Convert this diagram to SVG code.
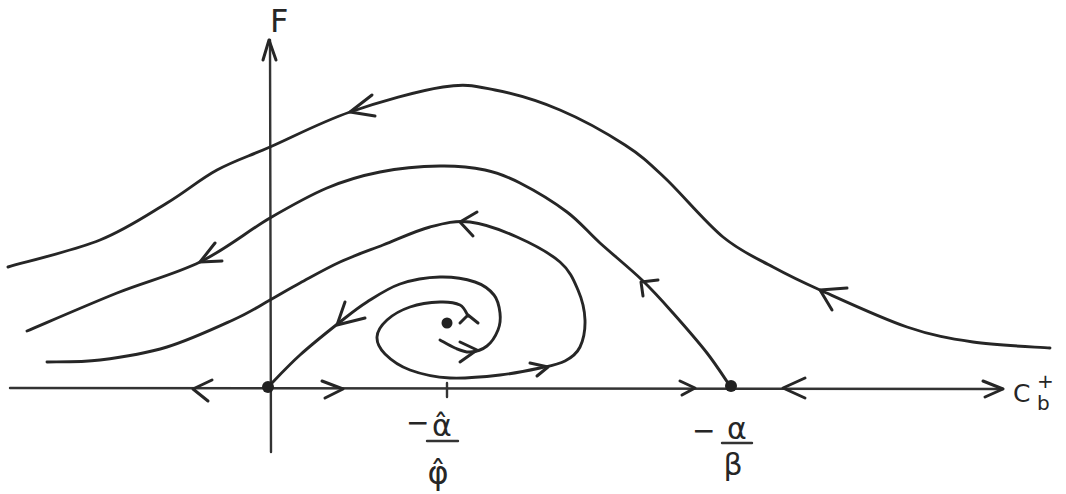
<svg xmlns="http://www.w3.org/2000/svg" width="1066" height="494" viewBox="0 0 1066 494">
<style>
.ln{fill:none;stroke:#262626;stroke-width:2.9;stroke-linecap:round;stroke-linejoin:round}
.ax{fill:none;stroke:#333;stroke-width:2.4;stroke-linecap:round;stroke-linejoin:round}
.ar{fill:none;stroke:#262626;stroke-width:3;stroke-linecap:round;stroke-linejoin:round}
.dot{fill:#222}
.t{font-family:"DejaVu Sans","Liberation Sans",sans-serif;fill:#262626}
</style>
<rect width="1066" height="494" fill="#fff"/>
<g id="axes">
<path class="ax" d="M10,388 L1003,389"/>
<path class="ax" d="M270,40 L271,452"/>
<path class="ar" d="M263,60 L269,40 L276,60"/>
<path class="ar" d="M983,381 L1003,389 L985,397"/>
<path class="ax" d="M447,383 L447,397"/>
</g>
<g id="connectors">
<path id="outer" class="ln" d="M8,267 C23,262.5 73.5,250.7 100,240 C126.5,229.3 147.5,214.7 167,203 C186.5,191.3 199.8,179.3 217,170 C234.2,160.7 247.8,156.7 270,147 C292.2,137.3 321.2,122 350,112 C378.8,102 418.8,90.7 443,87 C467.2,83.3 475.5,86.2 495,90 C514.5,93.8 538.3,100.8 560,110 C581.7,119.2 607.5,133.7 625,145 C642.5,156.3 648.7,162.7 665,178 C681.3,193.3 705,222.2 723,237 C741,251.8 756.8,258.2 773,267 C789.2,275.8 797.7,280 820,290 C842.3,300 881.5,318.3 907,327 C932.5,335.7 949.2,338.5 973,342 C996.8,345.5 1037.2,347 1050,348"/>
<path id="separatrix" class="ln" d="M27,331 C42,324.7 88.2,304.5 117,293 C145.8,281.5 174.5,274.5 200,262 C225.5,249.5 248.8,230.3 270,218 C291.2,205.7 308.7,195.7 327,188 C345.3,180.3 361.2,175.7 380,172 C398.8,168.3 422.5,166.3 440,166 C457.5,165.7 471.7,167.2 485,170 C498.3,172.8 506.3,176 520,183 C533.7,190 553.7,202 567,212 C580.3,222 587.5,231.7 600,243 C612.5,254.3 629.8,268.3 642,280 C654.2,291.7 662.2,300.8 673,313 C683.8,325.2 697.5,340.8 707,353 C716.5,365.2 726.2,380.5 730,386"/>
<path id="spiralB" class="ln" d="M47,362 C55.8,361.7 80,362.5 100,360 C120,357.5 144.8,353.7 167,347 C189.2,340.3 215.8,327.8 233,320 C250.2,312.2 258.8,306.2 270,300 C281.2,293.8 288.3,289.3 300,283 C311.7,276.7 326.2,268.3 340,262 C353.8,255.7 368,250.8 383,245 C398,239.2 415.5,230.8 430,227 C444.5,223.2 455.5,220.3 470,222 C484.5,223.7 502,230.3 517,237 C532,243.7 549.8,253.2 560,262 C570.2,270.8 573.8,280.3 578,290 C582.2,299.7 584.7,310.5 585,320 C585.3,329.5 583.3,340.2 580,347 C576.7,353.8 571.7,357.5 565,361 C558.3,364.5 550.8,365.7 540,368 C529.2,370.3 515,373.3 500,375 C485,376.7 465,378.8 450,378 C435,377.2 420.8,374 410,370 C399.2,366 390.5,359.5 385,354 C379.5,348.5 376.7,342.7 377,337 C377.3,331.3 381.5,325 387,320 C392.5,315 401.2,310 410,307 C418.8,304 431.7,302.3 440,302 C448.3,301.7 455.3,302.7 460,305 C464.7,307.3 466.7,314.2 468,316"/>
<path id="spiralA" class="ln" d="M440,340 C442.5,341.3 450,346 455,348 C460,350 464.7,352.3 470,352 C475.3,351.7 482.3,349.7 487,346 C491.7,342.3 495.8,335.5 498,330 C500.2,324.5 500.7,318.8 500,313 C499.3,307.2 498.2,300.2 494,295 C489.8,289.8 484,285 475,282 C466,279 452.5,276.7 440,277 C427.5,277.3 412.2,279.8 400,284 C387.8,288.2 377,295.7 367,302 C357,308.3 351.2,313.2 340,322 C328.8,330.8 312,344.2 300,355 C288,365.8 273.3,381.7 268,387"/>
<g id="arrowheads">
<path class="ar" d="M372,95 L350,112 L375,116"/>
<path class="ar" d="M847,288 L820,290 L832,310"/>
<path class="ar" d="M215,243 L200,262 L222,261"/>
<path class="ar" d="M658,280 L641,282 L643,296"/>
<path class="ar" d="M477,212 L460,222 L473,236"/>
<path class="ar" d="M345,302 L337,325 L365,318"/>
<path class="ar" d="M530,363 L548,367 L537,376"/>
<path class="ar" d="M460,342 L477,350 L460,362"/>
<path class="ar" d="M460,323 L468,315 L478,323"/>
<path class="ar" d="M212,380 L193,389 L208,401"/>
<path class="ar" d="M322,381 L343,389 L325,398"/>
<path class="ar" d="M680,381 L695,388 L682,395"/>
<path class="ar" d="M805,378 L783,388 L805,398"/>
</g>
</g>
<g id="origin"><circle class="dot" cx="268" cy="387" r="6"/></g>
<g id="focus"><circle class="dot" cx="447" cy="323" r="5.5"/></g>
<g id="node"><circle class="dot" cx="731" cy="386" r="6"/></g>
<g id="labels">
<text class="t" x="270" y="32" font-size="32">F</text>
<text class="t" x="1013" y="402" font-size="25">C</text>
<text class="t" x="1037" y="388" font-size="20">+</text>
<text class="t" x="1037" y="410" font-size="20">b</text>
<text class="t" x="406" y="432" font-size="28">−</text>
<text class="t" x="442" y="436" font-size="30" text-anchor="middle">α̂</text>
<path class="ax" d="M427,441 L458,441"/>
<text class="t" x="438" y="484" font-size="32" text-anchor="middle">φ̂</text>
<text class="t" x="692" y="440" font-size="28">−</text>
<text class="t" x="737" y="439" font-size="30" text-anchor="middle">α</text>
<path class="ax" d="M722,443 L752,443"/>
<text class="t" x="733" y="475" font-size="30" text-anchor="middle">β</text>
</g>
</svg>
